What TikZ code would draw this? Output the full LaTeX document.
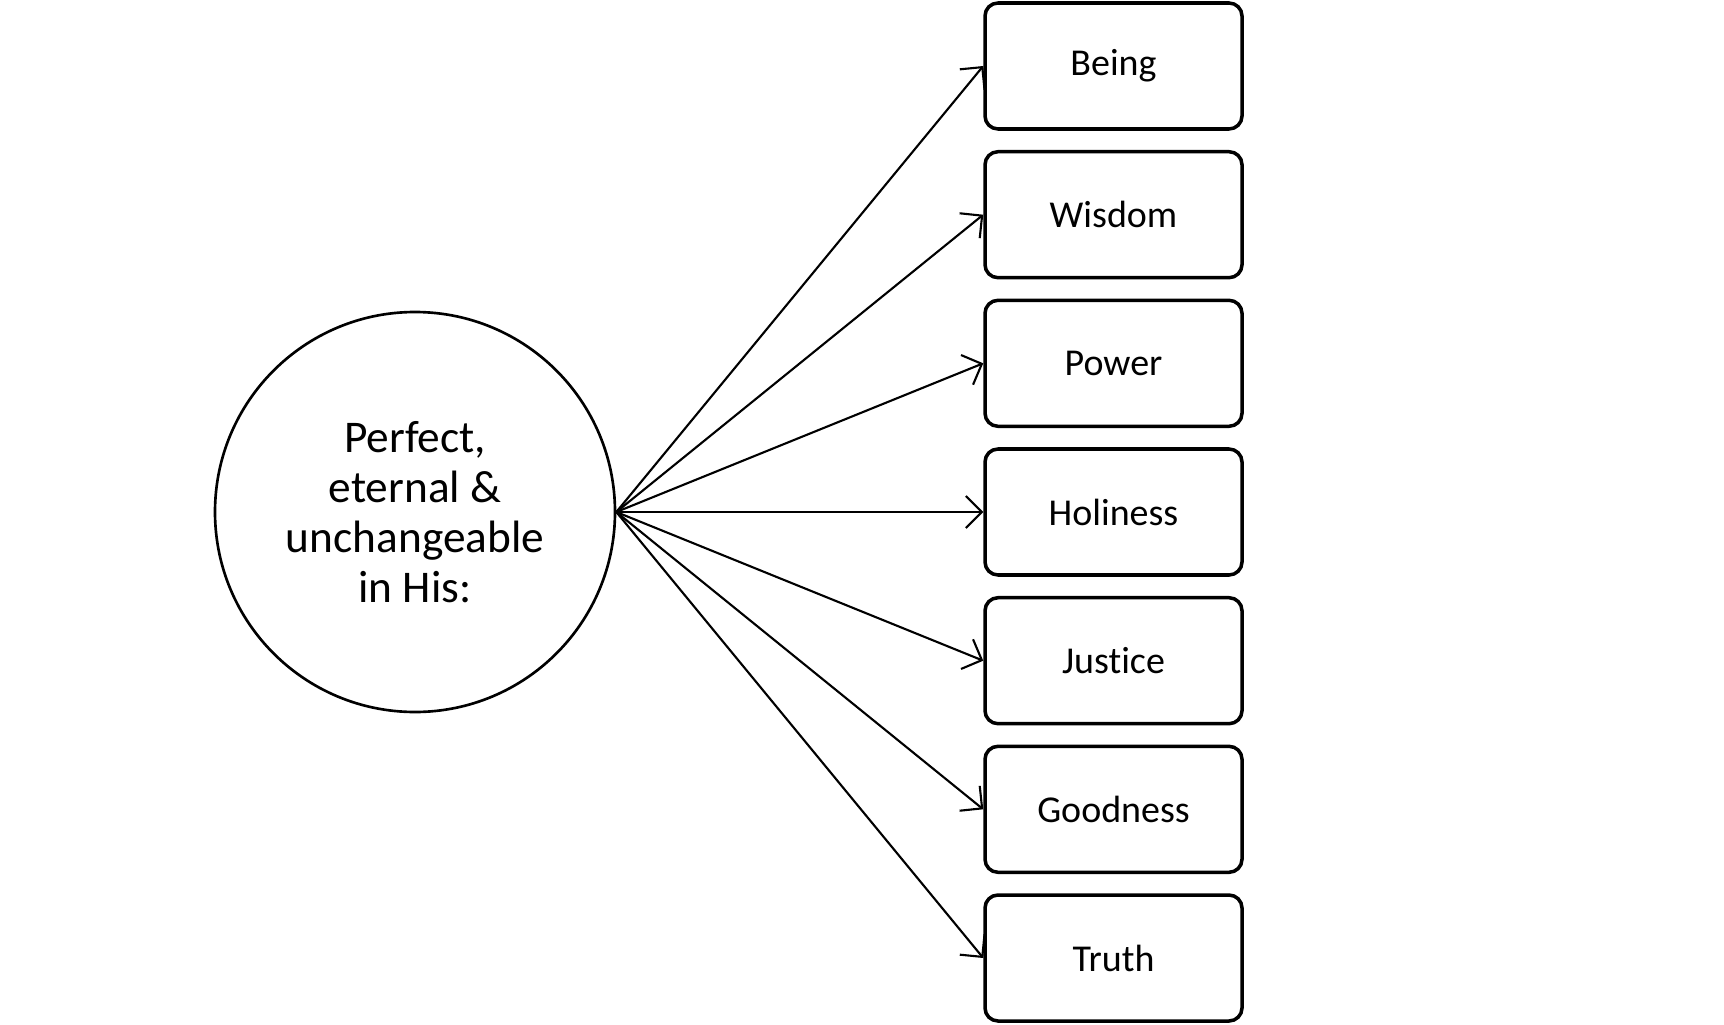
\documentclass[tikz,border=0pt]{standalone}
\usepackage{fontspec}
\setmainfont[Ligatures=NoCommon]{Carlito}
\usepackage{tikz}
\usetikzlibrary{arrows.meta,positioning}

\begin{document}
\begin{tikzpicture}[
  attr/.style={draw,line width=1pt,rounded corners=0.13cm,minimum width=2.57cm,minimum height=1.26cm,font=\fontsize{10.8}{13}\selectfont},
  hub/.style={draw,circle,line width=0.75pt,minimum size=4.0cm,align=center,font=\fontsize{12.9}{14.2}\selectfont},
  link/.style={line width=0.6pt,-{Straight Barb[length=1.6mm,width=3.2mm]}}
]
\useasboundingbox (0,0) rectangle (17.24,10.24);
\node[hub] (perfect) at (4.15,5.12) {Perfect,\\eternal \&\\unchangeable\\in His:};
\node[attr] (being) at (11.135,9.58) {Being};
\node[attr] (wisdom) at (11.135,8.093) {Wisdom};
\node[attr] (power) at (11.135,6.607) {Power};
\node[attr] (holiness) at (11.135,5.12) {Holiness};
\node[attr] (justice) at (11.135,3.633) {Justice};
\node[attr] (goodness) at (11.135,2.147) {Goodness};
\node[attr] (truth) at (11.135,0.66) {Truth};
\draw[link] (perfect.east) -- (being.west);
\draw[link] (perfect.east) -- (wisdom.west);
\draw[link] (perfect.east) -- (power.west);
\draw[link] (perfect.east) -- (holiness.west);
\draw[link] (perfect.east) -- (justice.west);
\draw[link] (perfect.east) -- (goodness.west);
\draw[link] (perfect.east) -- (truth.west);
\end{tikzpicture}
\end{document}
